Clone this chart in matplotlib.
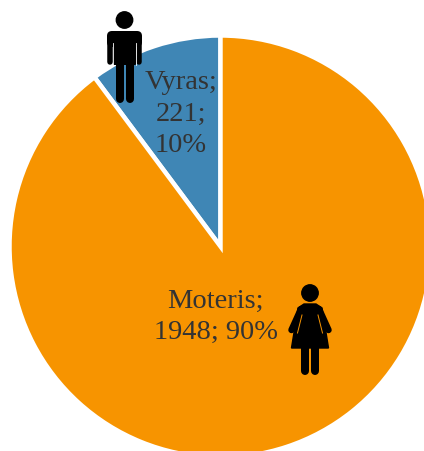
import matplotlib
matplotlib.use("Agg")
import matplotlib.pyplot as plt
from matplotlib.patches import Circle, FancyBboxPatch, Polygon

categories = ["Vyras", "Moteris"]
counts = [221, 1948]
percents = [10, 90]
colors = ["#3F86B5", "#F79400"]
label_text = ["Vyras;\n221;\n10%", "Moteris;\n1948; 90%"]

fig = plt.figure(figsize=(4.24, 4.52), dpi=100)
ax = fig.add_axes([0, 0, 1, 1])

# axes in pixels, y pointing down, so the pie runs clockwise flipped
ax.pie(
    counts,
    colors=colors,
    center=(220.5, 247.5),
    radius=211,
    startangle=-90,
    counterclock=False,
    wedgeprops={"edgecolor": "white", "linewidth": 3.2},
    frame=False,
)
ax.set_xlim(0, 424)
ax.set_ylim(452, 0)
ax.set_aspect("auto")
ax.axis("off")

text_style = dict(
    family="Liberation Serif",
    fontsize=20.5,
    color="#333333",
    ha="center",
    va="center",
    linespacing=1.33,
)
ax.text(181, 114, label_text[0], **text_style)
ax.text(215.5, 317, label_text[1], **text_style)


def limb(x0, y0, x1, y1, width):
    ax.plot([x0, x1], [y0, y1], color="black", lw=width * 0.72,
            solid_capstyle="round", zorder=5)


def rounded(x, y, w, h, r):
    ax.add_patch(FancyBboxPatch((x + r, y + r), w - 2 * r, h - 2 * r,
                                boxstyle=f"round,pad={r}", color="black",
                                lw=0, zorder=5))


# man icon
ax.add_patch(Circle((124.5, 21), 8.2, color="black", zorder=5))
rounded(107, 32, 35, 16, 5)
rounded(113, 36, 23, 30, 1)
limb(109.7, 40, 109.7, 62.5, 5.5)
limb(139.3, 40, 139.3, 62.5, 5.5)
limb(119.5, 62, 119.5, 99.5, 8)
limb(129.5, 62, 129.5, 99.5, 8)
ax.plot([112.8, 112.8], [44, 66], color="white", lw=0.6, zorder=6)
ax.plot([136.2, 136.2], [44, 66], color="white", lw=0.6, zorder=6)

# woman icon
ax.add_patch(Circle((310, 294), 8.2, color="black", zorder=5))
ax.add_patch(Polygon([(304, 305), (316, 305), (322, 309), (328.5, 349), (291.5, 349), (298, 309)],
                     closed=True, color="black", zorder=5))
limb(301, 310, 291.5, 331, 6.5)
limb(319, 310, 328.5, 331, 6.5)
limb(304.5, 345, 304.5, 372, 8)
limb(315, 345, 315, 372, 8)
ax.plot([302, 297.5], [316, 334], color="#F79400", lw=0.7, zorder=6)
ax.plot([318, 322.5], [316, 334], color="#F79400", lw=0.7, zorder=6)

fig.savefig("out.png", dpi=100)
